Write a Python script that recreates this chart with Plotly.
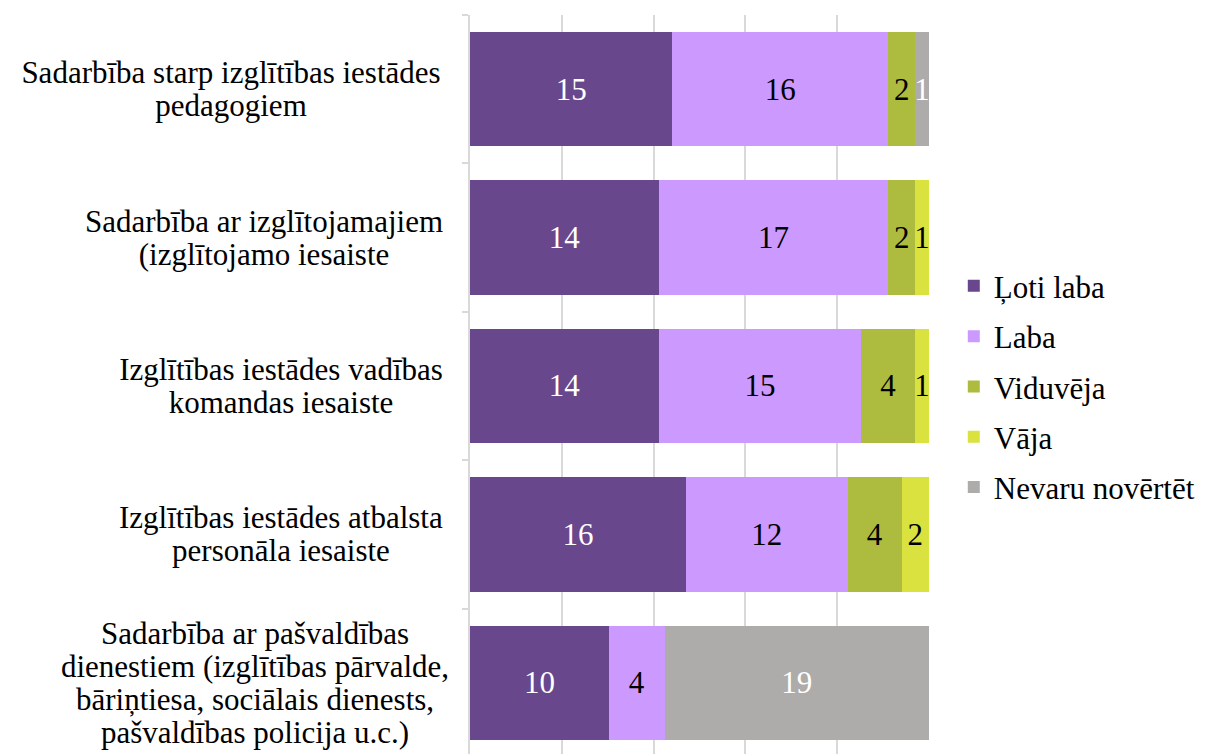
import plotly.graph_objects as go

categories = [
    "Sadarbība starp izglītības iestādes<br>pedagogiem",
    "Sadarbība ar izglītojamajiem<br>(izglītojamo iesaiste",
    "Izglītības iestādes vadības<br>komandas iesaiste",
    "Izglītības iestādes atbalsta<br>personāla iesaiste",
    "Sadarbība ar pašvaldības<br>dienestiem (izglītības pārvalde,<br>bāriņtiesa, sociālais dienests,<br>pašvaldības policija u.c.)",
]
series_names = ["Ļoti laba", "Laba", "Viduvēja", "Vāja", "Nevaru novērtēt"]
loti_laba = [15, 14, 14, 16, 10]
laba = [16, 17, 15, 12, 4]
viduveja = [2, 2, 4, 4, 0]
vaja = [0, 1, 1, 2, 0]
nevaru = [1, 0, 0, 0, 19]

series_values = [loti_laba, laba, viduveja, vaja, nevaru]
colors = ["#68478D", "#CC99FF", "#ADBC3E", "#DAE240", "#AEABAB"]
text_colors = ["white", "black", "black", "black", "white"]
# layout: width of each category label block (px), line spacing (px)
label_box_widths = [438, 372, 338, 338, 390]
LINE_GAP = 33
FONT = "Liberation Serif"
FS = 31

fig = go.Figure()
ykeys = list(range(len(categories)))
for name, vals, col, tcol in zip(series_names, series_values, colors, text_colors):
    fig.add_trace(go.Bar(
        name=name, y=ykeys, x=vals, orientation="h",
        marker=dict(color=col, line=dict(width=0)),
        text=[str(v) if v else "" for v in vals],
        textposition="inside", insidetextanchor="middle", textangle=0,
        textfont=dict(family=FONT, size=FS, color=tcol),
        legendgroup=name, hoverinfo="x+name",
    ))

for i, (cat, w) in enumerate(zip(categories, label_box_widths)):
    lines = cat.split("<br>")
    n = len(lines)
    for k, line in enumerate(lines):
        fig.add_annotation(
            text=line, xref="paper", yref="y", x=-0.039, y=i,
            xanchor="right", yanchor="middle", align="center", width=w,
            yshift=((n - 1) / 2 - k) * LINE_GAP, showarrow=False,
            font=dict(family=FONT, size=FS, color="black"),
        )

fig.update_layout(
    width=1198, height=746,
    margin=dict(l=462, r=277, t=7, b=0),
    barmode="stack", barnorm="percent", bargap=0.23,
    plot_bgcolor="white", paper_bgcolor="white",
    uniformtext=dict(minsize=FS, mode="show"),
    font=dict(family=FONT, size=FS, color="black"),
    legend=dict(
        x=1.054, xanchor="left", y=0.497, yanchor="middle",
        traceorder="grouped", tracegroupgap=7,
        font=dict(family=FONT, size=FS, color="black"),
    ),
    xaxis=dict(
        range=[0, 100.05], dtick=20, showticklabels=False,
        showgrid=True, gridcolor="#D9D9D9", gridwidth=1.5,
        zeroline=False, showline=False, ticks="",
    ),
    yaxis=dict(
        range=[4.48, -0.5], showticklabels=False,
        tickmode="array", tickvals=ykeys,
        showline=True, linecolor="#D9D9D9", linewidth=1.5,
        showgrid=False, zeroline=False,
    ),
)

fig.update_yaxes(type="category", tickson="boundaries", ticks="outside",
                 ticklen=6, tickcolor="#D9D9D9", tickwidth=1.5)

fig.write_html("out.html")
